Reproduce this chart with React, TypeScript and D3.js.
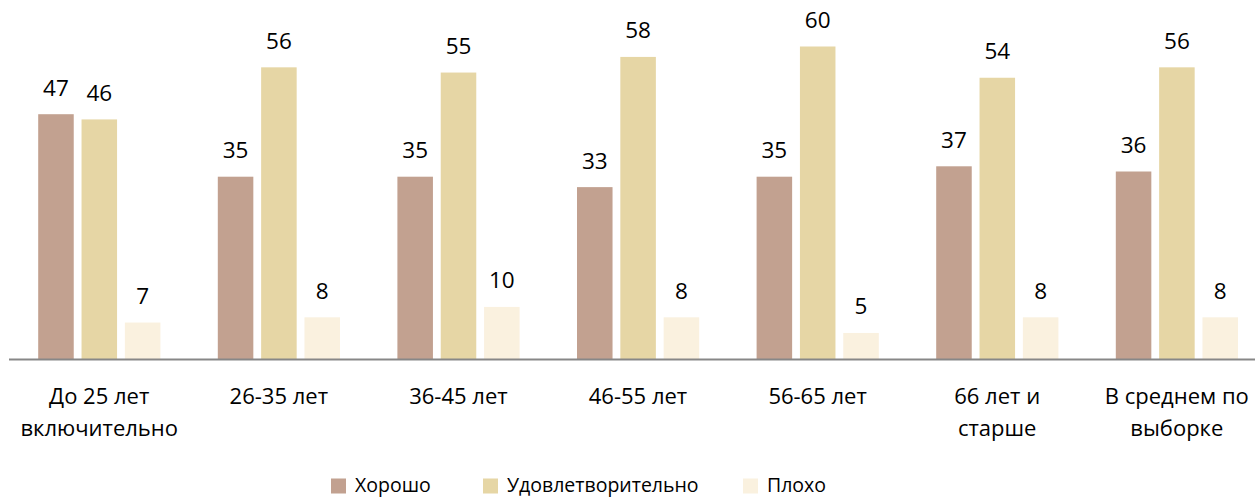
import React from "react";
import * as d3 from "d3";

// Data
const categories = [
  ["До 25 лет", "включительно"],
  ["26-35 лет"],
  ["36-45 лет"],
  ["46-55 лет"],
  ["56-65 лет"],
  ["66 лет и", "старше"],
  ["В среднем по", "выборке"],
];
const seriesNames = ["Хорошо", "Удовлетворительно", "Плохо"];
const good = [47, 35, 35, 33, 35, 37, 36];
const fair = [46, 56, 55, 58, 60, 54, 56];
const bad = [7, 8, 10, 8, 5, 8, 8];
const colors = ["#c2a190", "#e6d6a5", "#faf1df"];

const W = 1255;
const H = 497;
const FONT = "'Open Sans', sans-serif";

const App = () => {
  const series = [good, fair, bad];

  // Scales
  const xScale = d3
    .scaleBand<number>()
    .domain(d3.range(categories.length))
    .range([9.4, 9.4 + 7 * 179.6]);
  const inner = d3
    .scaleBand<number>()
    .domain([0, 1, 2])
    .range([28.8, 151])
    .paddingInner(0.18);
  const yScale = d3.scaleLinear().domain([0, 60]).range([359, 46.5]);

  const legendX = [331, 483, 743];

  return (
    <svg
      width={W}
      height={H}
      style={{ position: "absolute", left: 0, top: 0, fontFamily: FONT }}
    >
      {/* bars */}
      {series.map((vals, s) =>
        vals.map((v, i) => (
          <g key={`${s}-${i}`}>
            <rect
              x={xScale(i)! + inner(s)!}
              y={yScale(v)}
              width={inner.bandwidth()}
              height={yScale(0) - yScale(v)}
              fill={colors[s]}
            />
            <text
              x={xScale(i)! + inner(s)! + inner.bandwidth() / 2}
              y={yScale(v) - 18.5}
              textAnchor="middle"
              fontSize={22.5}
              fill="#000"
            >
              {v}
            </text>
          </g>
        ))
      )}

      {/* axis */}
      <line x1={9} x2={W} y1={359.5} y2={359.5} stroke="#878787" strokeWidth={2} />

      {/* category labels */}
      {categories.map((lines, i) => (
        <text
          key={i}
          x={xScale(i)! + xScale.bandwidth() / 2}
          y={404}
          textAnchor="middle"
          fontSize={22}
          fill="#000"
        >
          {lines.map((l, j) => (
            <tspan key={j} x={xScale(i)! + xScale.bandwidth() / 2} dy={j === 0 ? 0 : 32}>
              {l}
            </tspan>
          ))}
        </text>
      ))}

      {/* legend */}
      {seriesNames.map((name, s) => (
        <g key={name}>
          <rect x={legendX[s]} y={478.5} width={15} height={15} fill={colors[s]} />
          <text x={legendX[s] + 24} y={492} fontSize={19.5} fill="#000">
            {name}
          </text>
        </g>
      ))}
    </svg>
  );
};

export default App;
